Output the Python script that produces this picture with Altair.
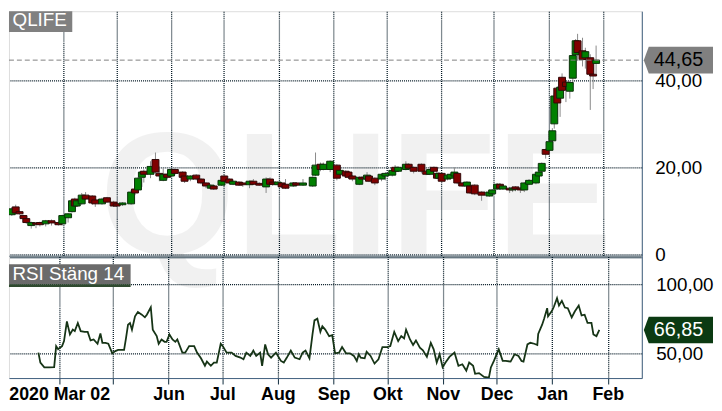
import json
import altair as alt
import pandas as pd

# ---------------- data ----------------
ticker = "QLIFE"
rsi_title = "RSI Stäng 14"
base_date = "2020-02-29"          # day 0 of the day offsets below

candle_day = [2.8, 5.0, 7.2, 9.4, 11.0, 13.8, 16.5, 18.7, 22.0, 25.3,
              29.2, 31.4, 34.7, 36.9, 38.5, 39.6, 42.4, 44.6, 48.4, 50.1,
              53.9, 56.7, 60.5, 62.2, 65.5, 70.4, 72.6, 74.3, 76.5, 77.6,
              81.4, 84.2, 86.4, 88.6, 90.8, 93.0, 95.2, 99.6, 100.7, 104.0,
              107.3, 110.0, 112.8, 115.5, 117.2, 121.6, 123.2, 126.0, 128.2, 131.5,
              133.7, 137.5, 139.7, 143.0, 146.9, 149.1, 150.7, 153.5, 155.7, 157.9,
              162.3, 163.9, 167.8, 173.3, 174.9, 177.7, 179.3, 183.2, 187.0, 188.7,
              192.0, 193.6, 195.8, 199.7, 201.3, 204.1, 205.2, 208.5, 212.3, 214.5,
              218.4, 220.0, 221.7, 226.1, 227.7, 230.5, 234.9, 237.6, 239.8, 242.0,
              243.7, 244.8, 246.4, 249.7, 251.4, 253.6, 255.2, 258.0, 260.7, 262.4,
              265.1, 269.0, 273.4, 275.0, 277.8, 279.4, 281.1, 284.9, 286.6, 288.2,
              291.0, 293.2, 295.9, 299.8, 301.4, 303.1, 305.3, 307.5, 309.1, 310.2,
              311.9, 313.5, 314.6, 316.8, 319.0, 320.7, 322.3, 323.4, 326.2, 327.8,
              330.6, 332.2, 333.9]
candle_open = [9.1, 10.9, 9.8, 8.9, 8.2, 6.6, 7.2, 7.3, 7.0, 7.7,
               7.3, 7.0, 8.4, 9.8, 12.7, 11.1, 11.6, 13.6, 13.4, 12.5,
               11.6, 13.0, 12.0, 11.6, 11.4, 11.6, 15.0, 14.8, 17.7, 19.1,
               18.4, 21.8, 18.6, 17.0, 18.4, 18.0, 19.5, 18.9, 18.0, 17.3,
               18.2, 17.3, 16.4, 15.2, 15.7, 15.9, 18.0, 17.3, 16.1, 16.6,
               16.4, 16.0, 16.8, 16.3, 15.5, 17.3, 16.6, 16.0, 16.4, 16.1,
               15.7, 16.4, 15.9, 15.7, 18.2, 20.7, 19.5, 19.5, 20.5, 18.4,
               19.1, 18.9, 18.0, 16.1, 17.7, 17.3, 18.0, 17.5, 17.3, 18.0,
               18.2, 20.0, 19.1, 19.5, 20.7, 20.0, 20.7, 19.1, 18.4, 20.0,
               18.6, 17.5, 18.6, 17.3, 17.5, 18.0, 18.6, 16.4, 15.7, 15.7,
               15.9, 14.3, 13.4, 13.9, 15.0, 16.1, 15.0, 15.2, 14.8, 15.5,
               15.2, 14.8, 16.1, 16.4, 18.0, 19.1, 24.1, 23.9, 26.1, 30.0,
               38.2, 35.9, 40.7, 39.6, 37.5, 40.5, 45.9, 49.1, 46.8, 45.2,
               45.2, 41.4, 43.9]
candle_high = [10.8, 11.4, 10.0, 9.1, 8.4, 7.5, 7.4, 7.5, 7.9, 8.0,
               7.5, 9.1, 9.5, 12.5, 13.0, 12.6, 14.1, 14.3, 13.6, 12.7,
               13.0, 13.2, 12.3, 11.8, 12.0, 14.8, 15.9, 17.7, 19.1, 19.5,
               21.4, 23.4, 20.2, 19.8, 18.6, 19.8, 19.8, 19.1, 18.2, 18.2,
               18.4, 17.5, 16.6, 16.1, 15.9, 17.3, 18.4, 17.5, 17.0, 16.8,
               16.6, 17.0, 17.3, 16.6, 17.7, 17.7, 16.8, 16.8, 16.6, 17.3,
               16.6, 16.6, 17.3, 17.9, 23.4, 21.1, 21.1, 21.6, 20.7, 19.5,
               19.3, 19.1, 18.2, 17.9, 18.0, 18.9, 18.2, 17.7, 18.6, 18.9,
               19.5, 20.5, 20.2, 21.4, 20.9, 20.2, 20.9, 19.3, 20.2, 20.2,
               19.1, 18.9, 18.9, 18.4, 18.6, 20.0, 18.9, 16.6, 16.8, 16.1,
               16.1, 14.5, 14.8, 15.0, 16.4, 16.4, 15.9, 15.5, 15.5, 15.7,
               15.5, 16.6, 17.3, 18.6, 19.1, 21.1, 24.3, 26.4, 29.0, 37.0,
               38.6, 39.0, 41.6, 40.0, 39.8, 46.0, 49.5, 50.7, 49.8, 47.5,
               46.0, 43.0, 48.0]
candle_low = [8.8, 9.3, 9.1, 8.0, 7.0, 5.9, 6.0, 6.4, 6.4, 6.6,
              6.6, 6.6, 7.3, 9.6, 10.9, 10.9, 11.4, 12.5, 11.4, 10.9,
              11.4, 11.8, 10.9, 10.9, 11.1, 11.4, 13.6, 14.5, 15.5, 16.5,
              17.5, 18.6, 16.8, 16.8, 17.3, 17.7, 18.2, 17.0, 16.4, 16.8,
              17.0, 16.1, 15.2, 15.0, 14.8, 15.7, 16.6, 16.1, 15.9, 15.7,
              15.5, 15.2, 15.9, 15.7, 14.1, 15.9, 15.7, 15.9, 15.2, 15.0,
              15.5, 15.7, 15.7, 15.5, 18.0, 19.1, 19.3, 18.9, 17.0, 18.0,
              17.7, 17.3, 16.8, 15.9, 17.0, 16.8, 16.6, 15.9, 16.8, 17.0,
              17.9, 18.9, 18.9, 19.3, 19.5, 18.6, 18.6, 18.2, 18.2, 18.6,
              17.3, 17.0, 16.4, 17.0, 17.3, 17.7, 16.1, 15.5, 15.2, 13.9,
              13.6, 12.3, 13.2, 13.6, 14.8, 15.0, 14.8, 14.1, 14.3, 14.5,
              14.1, 14.3, 15.9, 16.1, 17.7, 18.9, 22.0, 22.5, 25.5, 28.9,
              31.6, 31.6, 36.5, 35.0, 35.8, 38.9, 44.0, 44.5, 43.2, 42.7,
              33.2, 38.0, 41.5]
candle_close = [10.45, 9.5, 9.3, 8.2, 7.3, 7.3, 6.9, 6.8, 7.7, 7.2,
                6.8, 8.9, 9.3, 12.3, 11.1, 12.3, 13.6, 12.7, 11.8, 11.6,
                12.7, 12.0, 11.1, 11.1, 11.8, 14.3, 14.1, 17.5, 18.9, 18.4,
                20.2, 18.9, 18.0, 18.4, 17.7, 19.5, 18.6, 17.7, 16.8, 18.0,
                17.3, 16.4, 15.7, 15.9, 15.0, 17.0, 16.8, 16.4, 16.8, 15.9,
                16.0, 16.8, 16.1, 15.9, 17.3, 16.1, 16.1, 16.6, 15.5, 15.2,
                16.4, 15.9, 16.4, 17.7, 20.5, 19.5, 20.7, 21.4, 17.5, 19.3,
                18.0, 17.7, 17.3, 17.7, 17.3, 18.2, 16.8, 16.4, 18.4, 18.6,
                19.3, 19.1, 20.0, 20.7, 19.8, 19.1, 19.1, 18.4, 19.5, 19.1,
                17.5, 18.6, 16.8, 18.2, 18.4, 18.9, 16.4, 15.7, 16.6, 14.1,
                13.9, 13.6, 14.3, 14.8, 16.1, 15.2, 15.7, 14.8, 15.2, 15.0,
                14.8, 16.4, 17.0, 18.4, 18.9, 20.9, 23.0, 25.9, 28.4, 36.4,
                34.8, 38.4, 37.7, 38.6, 39.5, 45.7, 49.1, 46.4, 44.8, 46.6,
                41.4, 41.0, 44.65]

rsi_day = [20.4, 21.5, 23.7, 26.4, 29.2, 30.3, 31.4, 33.6, 34.7, 36.3,
           38.0, 39.6, 40.7, 42.4, 44.0, 46.2, 47.9, 49.5, 51.2, 53.4,
           55.0, 56.1, 57.8, 59.4, 61.6, 63.3, 64.9, 68.2, 69.3, 70.4,
           71.5, 72.6, 74.3, 75.9, 78.1, 79.8, 80.9, 83.1, 84.2, 86.4,
           87.5, 89.1, 90.8, 91.9, 93.5, 95.2, 96.8, 97.9, 100.7, 102.3,
           104.5, 107.3, 108.9, 111.1, 113.3, 114.4, 116.6, 118.3, 119.9, 122.1,
           123.2, 125.4, 128.2, 130.4, 133.1, 134.8, 136.4, 138.6, 140.3, 141.9,
           144.1, 145.2, 146.9, 148.5, 150.2, 152.9, 155.7, 157.3, 159.0, 161.2,
           163.4, 166.1, 167.8, 169.4, 171.6, 173.3, 174.4, 176.0, 177.7, 178.8,
           180.4, 182.6, 184.3, 185.9, 188.1, 189.8, 192.0, 194.2, 196.4, 198.0,
           199.1, 200.2, 202.4, 203.5, 205.7, 207.9, 210.1, 212.3, 215.1, 216.7,
           218.9, 221.1, 222.8, 224.4, 225.5, 227.7, 229.4, 231.0, 233.2, 234.9,
           237.1, 239.3, 240.9, 242.6, 244.2, 245.9, 247.5, 249.7, 252.5, 254.7,
           256.9, 259.1, 260.7, 262.9, 264.0, 266.2, 269.0, 271.7, 272.8, 274.5,
           277.2, 279.4, 281.1, 283.8, 286.0, 288.2, 289.9, 291.0, 293.2, 294.8,
           297.0, 298.7, 299.2, 301.4, 302.5, 304.2, 304.7, 306.9, 308.0, 309.7,
           310.8, 312.4, 314.1, 315.7, 317.9, 319.6, 321.8, 323.4, 325.1, 326.7,
           328.9, 330.0, 331.7, 333.3]
rsi_value = [50.5, 43.3, 39.8, 39.9, 40.0, 55.2, 52.9, 55.2, 58.8, 73.1,
             63.6, 67.1, 66.0, 71.9, 66.0, 65.5, 65.5, 59.3, 60.0, 56.9,
             64.3, 57.6, 57.6, 56.9, 50.0, 51.6, 52.4, 52.4, 61.2, 70.7,
             71.9, 67.1, 76.7, 79.8, 77.9, 76.0, 77.9, 83.3, 67.1, 62.4,
             56.9, 60.0, 58.3, 58.3, 63.6, 60.0, 58.3, 60.0, 50.5, 50.5,
             55.2, 55.2, 50.5, 46.4, 41.0, 44.0, 41.0, 43.3, 43.3, 56.9,
             55.2, 50.5, 50.5, 48.1, 46.9, 45.7, 50.5, 48.1, 51.9, 48.1,
             50.5, 41.0, 56.4, 49.3, 46.9, 50.5, 44.5, 43.3, 46.9, 51.9,
             46.9, 45.7, 50.5, 51.9, 46.4, 63.6, 73.8, 75.0, 65.5, 69.5,
             67.1, 62.4, 63.1, 50.0, 50.5, 54.5, 50.0, 50.0, 48.1, 44.5,
             49.3, 46.9, 46.4, 51.2, 48.1, 42.6, 45.7, 54.5, 54.5, 55.2,
             65.5, 58.8, 62.4, 60.7, 67.1, 60.0, 56.0, 59.3, 54.0, 52.1,
             47.4, 57.6, 52.9, 43.3, 49.3, 39.9, 43.3, 47.4, 50.5, 41.0,
             42.1, 37.4, 43.3, 41.0, 35.2, 35.7, 32.9, 32.4, 39.8, 44.5,
             52.9, 44.5, 44.5, 44.0, 49.3, 48.1, 44.5, 44.0, 56.4, 57.6,
             56.9, 56.0, 64.0, 70.7, 75.0, 82.6, 76.7, 80.7, 83.8, 89.8,
             84.5, 87.9, 83.1, 82.6, 76.0, 80.2, 84.5, 77.4, 77.9, 72.0,
             72.0, 63.6, 62.4, 66.85]

tick_dates = ["2020-04-01", "2020-05-01", "2020-06-01", "2020-07-01", "2020-08-01",
              "2020-09-01", "2020-10-01", "2020-11-01", "2020-12-01", "2021-01-01",
              "2021-02-01"]
tick_labels = ["2020 Mar 02", "", "Jun", "Jul", "Aug", "Sep", "Okt", "Nov", "Dec",
               "Jan", "Feb"]
view_start = "2020-03-04"
view_end = "2021-02-20"

price_ticks = [0, 20, 40]
price_domain = [-0.5, 55.9]
rsi_ticks = [50, 100]
rsi_domain = [32.1, 120]
last_price = 44.65
last_rsi = 66.85

# ---------------- tables ----------------
base_ts = pd.Timestamp(base_date)


def to_iso(days):
    return [(base_ts + pd.to_timedelta(d, unit="D")).strftime("%Y-%m-%dT%H:%M:%S")
            for d in days]


def dt(s):
    y, m, d = (int(p) for p in s.split("-"))
    return alt.DateTime(year=y, month=m, date=d)


def comma(v):
    return f"{v:.2f}".replace(".", ",")


candles = pd.DataFrame({
    "date": to_iso(candle_day), "open": candle_open, "high": candle_high,
    "low": candle_low, "close": candle_close,
})
candles["dir"] = ["up" if c >= o else "down" for o, c in zip(candle_open, candle_close)]
rsi = pd.DataFrame({"date": to_iso(rsi_day), "rsi": rsi_value})
last_p = pd.DataFrame({"v": [last_price], "lbl": [comma(last_price)]})
last_r = pd.DataFrame({"v": [last_rsi], "lbl": [comma(last_rsi)]})
name_df = pd.DataFrame({"t": [ticker]})
rsi_name_df = pd.DataFrame({"t": [rsi_title]})

tick_values = [dt(s) for s in tick_dates]
label_by_month = [""] * 12
for s, lab in zip(tick_dates, tick_labels):
    label_by_month[int(s[5:7]) - 1] = lab
month_expr = json.dumps(label_by_month) + "[month(datum.value)]"
num_expr = "datum.value == 0 ? '0' : replace(format(datum.value, '.2f'), '.', ',')"

# ---------------- style ----------------
W, H1, H2 = 640, 248, 123
FONT = "Liberation Sans"
GRID = "#001622"
FRAME = "#41607f"
SEP = "#0d2a3c"
TAG_PATH = "M-1,0L-0.857,-0.386L1,-0.386L1,0.386L-0.857,0.386Z"

xs = alt.Scale(domain=[dt(view_start), dt(view_end)])

grid_kw = dict(grid=True, gridColor=GRID, gridDash=[1, 1], gridWidth=1.25, gridOpacity=1)

top_x_axis = alt.Axis(values=tick_values, labels=False, ticks=False,
                      domain=True, domainColor=SEP, domainWidth=2.5, title=None,
                      **grid_kw)
top_y_axis = alt.Axis(orient="right", values=price_ticks, labelExpr=num_expr,
                      ticks=False, labelPadding=13, labelFont=FONT, labelFontSize=19,
                      labelColor="#000000", labelAlign="left", labelBaseline="middle",
                      domain=True, domainColor=FRAME, domainWidth=1, title=None,
                      **grid_kw)
bot_x_axis = alt.Axis(values=tick_values, labelExpr=month_expr, labelFont=FONT,
                      labelFontSize=18, labelFontWeight="bold", labelColor="#000000",
                      labelPadding=2, labelOverlap=False, labelFlush=False,
                      ticks=True, tickSize=6, tickColor=SEP, tickWidth=1,
                      domain=True, domainColor=FRAME, domainWidth=1, title=None,
                      **grid_kw)
rsi_y_axis = alt.Axis(orient="right", values=rsi_ticks, labelExpr=num_expr,
                      ticks=False, labelPadding=14, labelFont=FONT, labelFontSize=19,
                      labelColor="#000000", labelAlign="left", labelBaseline="middle",
                      domain=True, domainColor=FRAME, domainWidth=1, title=None,
                      **grid_kw)

# ---------------- top panel ----------------
watermark = alt.Chart(name_df).mark_text(
    font=FONT, fontWeight="bold", fontSize=176, fill="#000000", opacity=0.052,
    align="center", baseline="alphabetic",
).encode(x=alt.value(351), y=alt.value(246), text="t:N")

cb = alt.Chart(candles)
wicks = cb.mark_rule(color="#8a8a8a", strokeWidth=1, clip=True).encode(
    x=alt.X("date:T", scale=xs, axis=top_x_axis),
    y=alt.Y("low:Q", scale=alt.Scale(domain=price_domain, nice=False, zero=False),
            axis=top_y_axis),
    y2="high:Q",
)
bodies = cb.mark_bar(size=7, strokeWidth=1, clip=True).encode(
    x="date:T",
    y="open:Q",
    y2="close:Q",
    fill=alt.Fill("dir:N", scale=alt.Scale(domain=["up", "down"],
                                           range=["#008000", "#800000"]), legend=None),
    stroke=alt.Stroke("dir:N", scale=alt.Scale(domain=["up", "down"],
                                               range=["#0a300a", "#300808"]), legend=None),
)
last_line = alt.Chart(last_p).mark_rule(color="#808080", strokeDash=[5, 3],
                                        strokeWidth=1).encode(
    y="v:Q", x=alt.value(0), x2=alt.value(W))
price_tag = alt.Chart(last_p).mark_point(shape=TAG_PATH, size=4900, filled=True,
                                         fill="#808080", opacity=1, strokeWidth=0).encode(
    x=alt.value(677), y="v:Q")
price_txt = alt.Chart(last_p).mark_text(font=FONT, fontSize=20, color="#000000",
                                        align="center", baseline="middle").encode(
    x=alt.value(677), y="v:Q", text="lbl:N")
name_box = alt.Chart(name_df).mark_rect(color="#808080").encode(
    x=alt.value(0), x2=alt.value(64), y=alt.value(0), y2=alt.value(21))
name_txt = alt.Chart(name_df).mark_text(font=FONT, fontSize=19, color="#ffffff",
                                        align="center", baseline="middle").encode(
    x=alt.value(31), y=alt.value(9), text="t:N")

top = alt.layer(watermark, wicks, bodies, last_line, price_tag, price_txt,
                name_box, name_txt).properties(width=W, height=H1)

# ---------------- RSI panel ----------------
rsi_line = alt.Chart(rsi).mark_line(color="#163416", strokeWidth=1.8, clip=True).encode(
    x=alt.X("date:T", scale=xs, axis=bot_x_axis),
    y=alt.Y("rsi:Q", scale=alt.Scale(domain=rsi_domain, nice=False, zero=False),
            axis=rsi_y_axis),
)
rsi_tag = alt.Chart(last_r).mark_point(shape=TAG_PATH, size=4900, filled=True,
                                       fill="#0b3a12", opacity=1, strokeWidth=0).encode(
    x=alt.value(677), y="v:Q")
rsi_txt = alt.Chart(last_r).mark_text(font=FONT, fontSize=20, color="#ffffff",
                                      align="center", baseline="middle").encode(
    x=alt.value(677), y="v:Q", text="lbl:N")
rsi_box = alt.Chart(rsi_name_df).mark_rect(color="#6b6b6b").encode(
    x=alt.value(0), x2=alt.value(123), y=alt.value(8), y2=alt.value(28))
rsi_under = alt.Chart(rsi_name_df).mark_rect(color="#2f4a2f").encode(
    x=alt.value(0), x2=alt.value(123), y=alt.value(28), y2=alt.value(31))
rsi_name = alt.Chart(rsi_name_df).mark_text(font=FONT, fontSize=19, color="#ffffff",
                                            align="center", baseline="middle").encode(
    x=alt.value(60), y=alt.value(18), text="t:N")

bottom = alt.layer(rsi_line, rsi_tag, rsi_txt, rsi_box, rsi_under,
                   rsi_name).properties(width=W, height=H2)

chart = alt.vconcat(top, bottom, spacing=0, bounds="flush").properties(
    padding=0, background="white"
).configure_view(stroke=None).configure(font=FONT)

chart.save("out.html", embed_options={"renderer": "svg", "actions": False})
